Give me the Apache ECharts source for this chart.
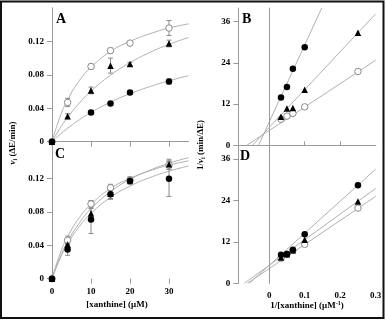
<!DOCTYPE html>
<html>
<head>
<meta charset="utf-8">
<script src="https://cdn.jsdelivr.net/npm/echarts@6/dist/echarts.min.js"></script>
<style>
  html, body { margin: 0; padding: 0; background: #fff; }
  #chart { width: 386px; height: 321px; }
</style>
</head>
<body>
<div id="chart"></div>
<script>
// ---- Panel A: initial rate vs [xanthine] ----
const xA = [0, 4, 10, 15, 20, 30];
const xAFilled = [0, 10, 15, 20, 30];
const aOpen = [0, 0.047, 0.090, 0.109, 0.118, 0.136];
const aOpenErr = [0, 0.005, 0.003, 0.003, 0.002, 0.009];
const aTri = [0, 0.0305, 0.0614, 0.091, 0.093, 0.1175];
const aTriErr = [0, 0.003, 0.004, 0.009, 0.002, 0.004];
const aFilled = [0, 0.035, 0.0456, 0.059, 0.072];
const aFilledErr = [0, 0.002, 0.002, 0.002, 0.003];

// fitted saturation curves, sampled along [xanthine]
const xCurve = [0, 2, 4, 7, 10, 15, 20, 25, 30, 35];
const aOpenFit = [0, 0.029, 0.050, 0.073, 0.089, 0.108, 0.120, 0.129, 0.136, 0.141];
const aTriFit = [0, 0.0156, 0.0291, 0.0462, 0.0605, 0.0796, 0.0946, 0.1066, 0.1165, 0.1247];
const aFilledFit = [0, 0.0085, 0.0161, 0.0262, 0.035, 0.0473, 0.0574, 0.0658, 0.0729, 0.079];

// ---- Panel C ----
const xC = [0, 4, 10, 15, 20, 30];
const cOpen = [0, 0.046, 0.0895, 0.109, 0.118, 0.136];
const cOpenErr = [0, 0.005, 0.004, 0.004, 0.003, 0.005];
const cTri = [0, 0.041, 0.078, 0.102, 0.118, 0.137];
const cTriErr = [0, 0.006, 0.006, 0.006, 0.004, 0.006];
const cFilled = [0, 0.035, 0.071, 0.101, 0.117, 0.1195];
const cFilledErr = [0, 0.007, 0.017, 0.006, 0.004, 0.021];
const cOpenFit = [0, 0.029, 0.050, 0.073, 0.089, 0.108, 0.120, 0.129, 0.136, 0.141];
const cTriFit = [0, 0.0248, 0.0443, 0.0667, 0.0837, 0.1042, 0.1188, 0.1297, 0.1382, 0.1449];
const cFilledFit = [0, 0.0233, 0.0415, 0.0624, 0.0782, 0.0973, 0.1108, 0.1209, 0.1287, 0.1349];

// ---- Panels B and D: double-reciprocal plots ----
const invX = [0.25, 0.1, 0.0667, 0.05, 0.0333];
const invXFilledB = [0.1, 0.0667, 0.05, 0.0333];
const bFilled = [28.6, 22.3, 17.0, 13.9];
const bTri = [32.8, 16.2, 10.9, 10.7, 8.3];
const bOpen = [21.5, 11.2, 9.3, 8.5, 7.6];
const bFilledLine = [[-0.030, 0], [0.148, 40]];
const bTriLine = [[-0.047, 0], [0.3, 38.3]];
const bOpenLine = [[-0.063, 0], [0.3, 24.8]];

const dFilled = [28.4, 14.2, 9.7, 8.5, 8.3];
const dTri = [23.7, 12.6, 9.6, 8.4, 7.5];
const dOpen = [21.8, 11.3, 9.5, 8.4, 7.3];
const dFilledLine = [[-0.056, 0], [0.3, 33.1]];
const dTriLine = [[-0.070, 0], [0.3, 27.5]];
const dOpenLine = [[-0.061, 0], [0.3, 25.2]];

// tick labels
const rateTicks = [0, 0.04, 0.08, 0.12];
const invRateTicks = [0, 12, 24, 36];
const concTicks = [0, 10, 20, 30];
const invConcTicks = [0, 0.1, 0.2, 0.3];

const SERIF = '"Liberation Serif", "DejaVu Serif", serif';
const FRAME = '#9a9a9a';
const FIT = '#b0b0b0';
const labelStyle = { fontFamily: SERIF, fontWeight: 'bold', fontSize: 9, color: '#000' };

const zip = (xs, ys) => xs.map((x, i) => [x, ys[i]]);
const zip3 = (xs, ys, es) => xs.map((x, i) => [x, ys[i], es[i]]);

const chart = echarts.init(document.getElementById('chart'), null, { renderer: 'canvas' });

const grids = [
  { left: 52, top: 8, width: 136.5, height: 133.7 },      // A
  { left: 238.3, top: 8, width: 137.4, height: 137.3 },   // B
  { left: 52, top: 141.7, width: 136.5, height: 137 },    // C
  { left: 238.3, top: 145.3, width: 137.4, height: 138 }  // D
];

function hiddenAxis(extra) {
  return Object.assign({
    type: 'value', axisLabel: { show: false }, axisTick: { show: false },
    splitLine: { show: false }, axisLine: { show: true, lineStyle: { color: FRAME, width: 1 } }
  }, extra);
}

const xAxes = [
  // 0: A bottom
  { type: 'value', gridIndex: 0, min: 0, max: 35, splitLine: { show: false },
    axisLine: { show: false }, axisLabel: { show: false },
    axisTick: { show: true, inside: false, length: 5, customValues: [10, 20, 30], lineStyle: { color: FRAME } } },
  // 1: B bottom (y = 0 line)
  { type: 'value', gridIndex: 1, min: -0.087, max: 0.3, splitLine: { show: false },
    axisLine: { show: true, onZero: false, lineStyle: { color: FRAME } }, axisLabel: { show: false },
    axisTick: { show: true, inside: true, length: 4, customValues: [0.1, 0.2], lineStyle: { color: FRAME } } },
  // 2: C bottom
  { type: 'value', gridIndex: 2, min: 0, max: 35, splitLine: { show: false },
    axisLine: { show: false },
    axisLabel: Object.assign({ show: true, margin: 8, customValues: concTicks }, labelStyle),
    axisTick: { show: true, inside: false, length: 5, customValues: [10, 20, 30], lineStyle: { color: FRAME } } },
  // 3: D bottom
  { type: 'value', gridIndex: 3, min: -0.087, max: 0.3, splitLine: { show: false },
    axisLine: { show: false },
    axisLabel: Object.assign({ show: true, margin: 8, customValues: invConcTicks,
      formatter: v => (v === 0 ? '0' : String(v)) }, labelStyle),
    axisTick: { show: false } },
  // frame tops for A and B
  hiddenAxis({ gridIndex: 0, position: 'top', min: 0, max: 35 }),
  hiddenAxis({ gridIndex: 1, position: 'top', min: -0.087, max: 0.3 })
];

function leftAxis(grid, max, ticks) {
  return { type: 'value', gridIndex: grid, min: 0, max: max, splitLine: { show: false },
    axisLine: { show: true, onZero: false, lineStyle: { color: FRAME } },
    axisTick: { show: true, inside: false, length: 5, customValues: ticks, lineStyle: { color: FRAME } },
    axisLabel: Object.assign({ show: true, margin: 8, customValues: ticks }, labelStyle) };
}

const yAxes = [
  leftAxis(0, 0.16, rateTicks),
  leftAxis(1, 40, invRateTicks),
  leftAxis(2, 0.164, rateTicks),
  leftAxis(3, 40, invRateTicks),
  hiddenAxis({ gridIndex: 0, position: 'right', min: 0, max: 0.16 }),
  hiddenAxis({ gridIndex: 1, position: 'right', min: 0, max: 40 }),
  hiddenAxis({ gridIndex: 2, position: 'right', min: 0, max: 0.164 }),
  hiddenAxis({ gridIndex: 3, position: 'right', min: 0, max: 40 })
];

function fitLine(xi, yi, data) {
  return { type: 'line', xAxisIndex: xi, yAxisIndex: yi, data: data, smooth: true,
    showSymbol: false, clip: true, silent: true, z: 2,
    lineStyle: { color: FIT, width: 1 } };
}
function straight(xi, yi, data) {
  return { type: 'line', xAxisIndex: xi, yAxisIndex: yi, data: data, smooth: false,
    showSymbol: false, clip: true, silent: true, z: 2,
    lineStyle: { color: FIT, width: 1 } };
}
const MARK = {
  open: { symbol: 'circle', symbolSize: 6.5, itemStyle: { color: '#fff', borderColor: '#8a8a8a', borderWidth: 1, opacity: 1 } },
  tri: { symbol: 'triangle', symbolSize: 6.5, itemStyle: { color: '#000', opacity: 1 } },
  filled: { symbol: 'circle', symbolSize: 6.5, itemStyle: { color: '#000', opacity: 1 } }
};
function points(xi, yi, data, kind, z) {
  return Object.assign({ type: 'scatter', xAxisIndex: xi, yAxisIndex: yi, data: data,
    silent: true, z: z || 5 }, MARK[kind]);
}
function errBars(xi, yi, data) {
  return { type: 'custom', xAxisIndex: xi, yAxisIndex: yi, data: data.filter(d => d[2] > 0),
    silent: true, z: 3, clip: false,
    renderItem: function (params, api) {
      const x = api.value(0), y = api.value(1), e = api.value(2);
      const hi = api.coord([x, y + e]);
      const lo = api.coord([x, y - e]);
      const w = 2.5;
      const st = { stroke: '#8a8a8a', lineWidth: 1 };
      return { type: 'group', children: [
        { type: 'line', shape: { x1: hi[0], y1: hi[1], x2: lo[0], y2: lo[1] }, style: st },
        { type: 'line', shape: { x1: hi[0] - w, y1: hi[1], x2: hi[0] + w, y2: hi[1] }, style: st },
        { type: 'line', shape: { x1: lo[0] - w, y1: lo[1], x2: lo[0] + w, y2: lo[1] }, style: st }
      ] };
    } };
}
function zeroLine(xi, yi) {
  return { type: 'line', xAxisIndex: xi, yAxisIndex: yi, data: [], silent: true,
    markLine: { silent: true, symbol: 'none', label: { show: false },
      lineStyle: { color: FRAME, width: 1, type: 'solid' }, data: [{ xAxis: 0 }] } };
}

const series = [
  // A
  fitLine(0, 0, zip(xCurve, aOpenFit)),
  fitLine(0, 0, zip(xCurve, aTriFit)),
  fitLine(0, 0, zip(xCurve, aFilledFit)),
  errBars(0, 0, zip3(xA, aOpen, aOpenErr)),
  errBars(0, 0, zip3(xA, aTri, aTriErr)),
  errBars(0, 0, zip3(xAFilled, aFilled, aFilledErr)),
  points(0, 0, zip(xA, aOpen), 'open'),
  points(0, 0, zip(xA, aTri), 'tri'),
  points(0, 0, zip(xAFilled, aFilled), 'filled', 6),
  // B
  zeroLine(1, 1),
  straight(1, 1, bFilledLine),
  straight(1, 1, bTriLine),
  straight(1, 1, bOpenLine),
  points(1, 1, zip(invX, bOpen), 'open'),
  points(1, 1, zip(invX, bTri), 'tri'),
  points(1, 1, zip(invXFilledB, bFilled), 'filled'),
  // C
  fitLine(2, 2, zip(xCurve, cOpenFit)),
  fitLine(2, 2, zip(xCurve, cTriFit)),
  fitLine(2, 2, zip(xCurve, cFilledFit)),
  errBars(2, 2, zip3(xC, cOpen, cOpenErr)),
  errBars(2, 2, zip3(xC, cTri, cTriErr)),
  errBars(2, 2, zip3(xC, cFilled, cFilledErr)),
  points(2, 2, zip(xC, cOpen), 'open'),
  points(2, 2, zip(xC, cTri), 'tri'),
  points(2, 2, zip(xC, cFilled), 'filled', 6),
  // D
  zeroLine(3, 3),
  straight(3, 3, dFilledLine),
  straight(3, 3, dTriLine),
  straight(3, 3, dOpenLine),
  points(3, 3, zip(invX, dOpen), 'open'),
  points(3, 3, zip(invX, dTri), 'tri'),
  points(3, 3, zip(invX, dFilled), 'filled')
];

const panelFont = { fontFamily: SERIF, fontWeight: 'bold', fontSize: 14, fill: '#000' };
const titleFont = { fontFamily: SERIF, fontWeight: 'bold', fontSize: 9, fill: '#000' };

const graphic = [
  { type: 'rect', shape: { x: 1, y: 1.5, width: 382.5, height: 316.5 },
    style: { fill: 'none', stroke: '#111', lineWidth: 2 }, z: 100 },
  { type: 'text', x: 56, y: 12, style: Object.assign({ text: 'A' }, panelFont) },
  { type: 'text', x: 242, y: 12, style: Object.assign({ text: 'B' }, panelFont) },
  { type: 'text', x: 55, y: 147, style: Object.assign({ text: 'C' }, panelFont) },
  { type: 'text', x: 240, y: 149, style: Object.assign({ text: 'D' }, panelFont) },
  { type: 'text', x: 13, y: 143, rotation: Math.PI / 2,
    style: Object.assign({ text: '{it|v}{sub|i} (ΔE/min)', align: 'center', verticalAlign: 'middle',
      rich: { it: { fontStyle: 'italic', fontFamily: SERIF, fontWeight: 'bold', fontSize: 9 },
              sub: { fontFamily: SERIF, fontWeight: 'bold', fontSize: 6, padding: [4, 0, 0, 0] } } }, titleFont) },
  { type: 'text', x: 201, y: 145, rotation: Math.PI / 2,
    style: Object.assign({ text: '1/{it|v}{sub|i} (min/ΔE)', align: 'center', verticalAlign: 'middle',
      rich: { it: { fontStyle: 'italic', fontFamily: SERIF, fontWeight: 'bold', fontSize: 9 },
              sub: { fontFamily: SERIF, fontWeight: 'bold', fontSize: 6, padding: [4, 0, 0, 0] } } }, titleFont) },
  { type: 'text', x: 117, y: 305,
    style: Object.assign({ text: '[xanthine] (μM)', align: 'center', verticalAlign: 'middle' }, titleFont) },
  { type: 'text', x: 307, y: 306,
    style: Object.assign({ text: '1/[xanthine] (μM{sup|-1})', align: 'center', verticalAlign: 'middle',
      rich: { sup: { fontFamily: SERIF, fontWeight: 'bold', fontSize: 6, padding: [0, 0, 5, 0] } } }, titleFont) }
];

chart.setOption({
  animation: false,
  backgroundColor: '#fff',
  grid: grids,
  xAxis: xAxes,
  yAxis: yAxes,
  series: series,
  graphic: graphic
});
</script>
</body>
</html>
